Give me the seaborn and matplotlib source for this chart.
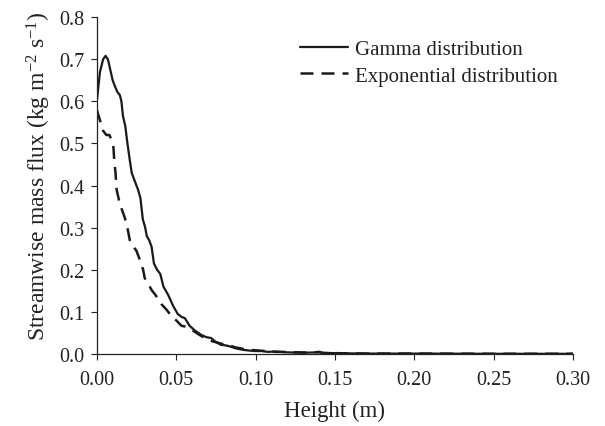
import matplotlib
matplotlib.use("Agg")
import matplotlib.pyplot as plt
import seaborn as sns
import pandas as pd

# Gamma distribution (solid)
gamma_x = [0, 0.002, 0.004, 0.0055, 0.007, 0.0085, 0.010, 0.0115, 0.013, 0.0145, 0.0155,
           0.0165, 0.018, 0.0193, 0.0208, 0.022, 0.024, 0.026, 0.0275, 0.029, 0.0305, 0.0315,
           0.033, 0.0345, 0.036, 0.038, 0.040, 0.042, 0.045, 0.048, 0.051, 0.0535, 0.0555,
           0.0585, 0.062, 0.066, 0.069, 0.072, 0.0745, 0.078, 0.082, 0.0855, 0.088, 0.092,
           0.0965, 0.100, 0.104, 0.108, 0.112, 0.1195, 0.13, 0.14, 0.142, 0.15, 0.17, 0.20,
           0.25, 0.30]
gamma_y = [0.60, 0.67, 0.70, 0.708, 0.70, 0.675, 0.65, 0.635, 0.622, 0.615, 0.60,
           0.565, 0.54, 0.50, 0.46, 0.43, 0.41, 0.39, 0.37, 0.32, 0.30, 0.28,
           0.27, 0.255, 0.215, 0.20, 0.19, 0.16, 0.14, 0.115, 0.095, 0.088, 0.085,
           0.067, 0.055, 0.045, 0.040, 0.038, 0.030, 0.022, 0.020, 0.016, 0.013, 0.010,
           0.008, 0.007, 0.007, 0.005, 0.006, 0.004, 0.003, 0.004, 0.003, 0.002, 0.001, 0.001,
           0.0005, 0.0005]

# Exponential distribution (dashed)
expo_x = [0, 0.002, 0.004, 0.006, 0.008, 0.0095, 0.0105, 0.011, 0.0118, 0.0125, 0.014,
          0.0156, 0.0175, 0.0187, 0.0198, 0.0208, 0.023, 0.025, 0.027, 0.0292, 0.0302, 0.032,
          0.0345, 0.037, 0.0408, 0.044, 0.047, 0.050, 0.0534, 0.056, 0.060, 0.064, 0.068,
          0.071, 0.073, 0.077, 0.081, 0.084, 0.087, 0.091, 0.095, 0.099, 0.103, 0.106, 0.109,
          0.113, 0.118, 0.122, 0.128, 0.135, 0.14, 0.143, 0.15, 0.17, 0.20, 0.25, 0.30]
expo_y = [0.58, 0.555, 0.53, 0.52, 0.52, 0.505, 0.49, 0.46, 0.43, 0.39, 0.365,
          0.345, 0.325, 0.31, 0.29, 0.27, 0.255, 0.245, 0.225, 0.20, 0.18, 0.17,
          0.152, 0.14, 0.118, 0.105, 0.09, 0.08, 0.067, 0.065, 0.057, 0.047, 0.038,
          0.033, 0.030, 0.026, 0.022, 0.020, 0.016, 0.013, 0.010, 0.009, 0.008, 0.007, 0.006,
          0.005, 0.005, 0.004, 0.004, 0.003, 0.005, 0.002, 0.002, 0.001, 0.001, 0.0005, 0.0005]

x_ticks = [0.00, 0.05, 0.10, 0.15, 0.20, 0.25, 0.30]
y_ticks = [0.0, 0.1, 0.2, 0.3, 0.4, 0.5, 0.6, 0.7, 0.8]

sns.set_style("ticks")
plt.rcParams["font.family"] = ["Liberation Serif", "DejaVu Serif"]
plt.rcParams["mathtext.fontset"] = "custom"
plt.rcParams["mathtext.rm"] = "Liberation Serif"
plt.rcParams["mathtext.it"] = "Liberation Serif:italic"

fig = plt.figure(figsize=(6.05, 4.27), dpi=100)
ax = fig.add_axes([0.160, 0.1686, 0.787, 0.789])

df_g = pd.DataFrame({"x": gamma_x, "y": gamma_y})
df_e = pd.DataFrame({"x": expo_x, "y": expo_y})
sns.lineplot(data=df_g, x="x", y="y", ax=ax, color="#1a1a1a", lw=1.6,
             label="Gamma distribution", sort=False)
sns.lineplot(data=df_e, x="x", y="y", ax=ax, color="#1a1a1a", lw=1.8,
             linestyle=(0, (5.2, 3.2)), label="Exponential distribution", sort=False)

ax.set_xlim(0, 0.30)
ax.set_ylim(0, 0.8)
ax.set_xticks(x_ticks)
ax.set_xticklabels([f"{v:.2f}" for v in x_ticks])
ax.set_yticks(y_ticks)
ax.set_yticklabels([f"{v:.1f}" for v in y_ticks])
ax.tick_params(axis="both", labelsize=14.5, length=4.5, width=0.8, colors="#222222",
               direction="out")
ax.tick_params(axis="x", pad=7)
ax.tick_params(axis="y", pad=4.5)
for s in ["top", "right"]:
    ax.spines[s].set_visible(False)
for s in ["left", "bottom"]:
    ax.spines[s].set_linewidth(0.9)
    ax.spines[s].set_color("#222222")

ax.set_xlabel("Height (m)", fontsize=16.5, color="#222222", labelpad=7.5)
ax.set_ylabel(r"Streamwise mass flux (kg m$^{\mathregular{-2}}$ s$^{\mathregular{-1}}$)",
              fontsize=17, color="#222222")
ax.yaxis.set_label_coords(-0.093, 0.53)

leg = ax.legend(loc="upper left", bbox_to_anchor=(0.387, 0.99), frameon=False,
                fontsize=15, handlelength=2.3, handletextpad=0.33, labelspacing=0.35)
for t in leg.get_texts():
    t.set_color("#222222")

fig.savefig("out.png", dpi=100)
